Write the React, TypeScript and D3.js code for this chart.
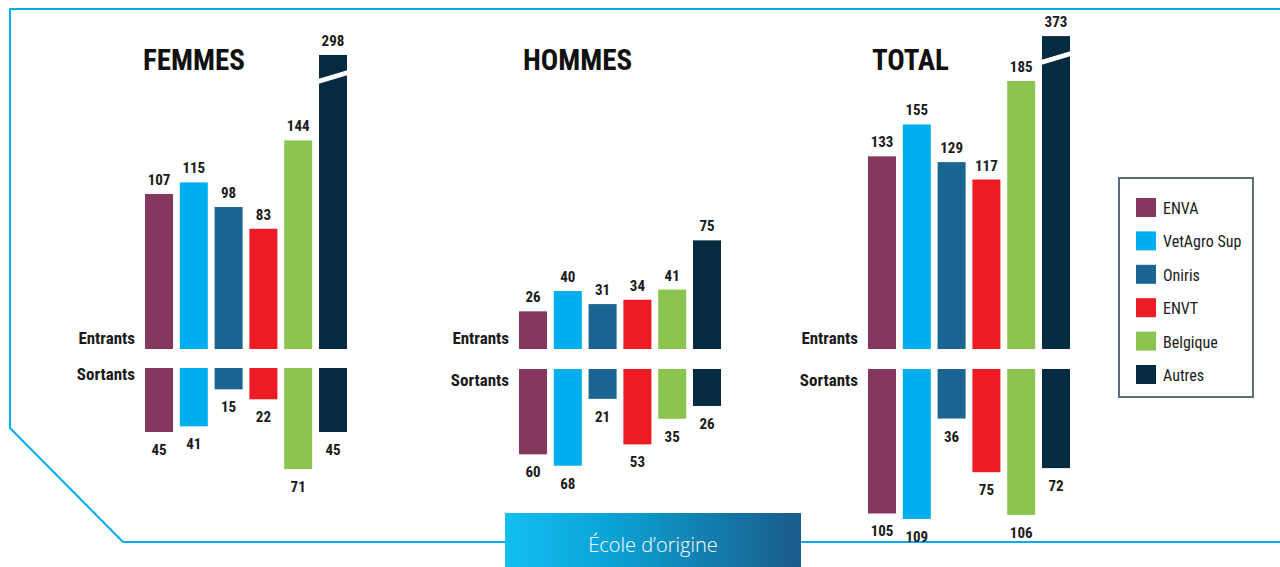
import { useRef, useEffect } from "react";
import * as d3 from "d3";

const schools = ["ENVA", "VetAgro Sup", "Oniris", "ENVT", "Belgique", "Autres"];
const colors = ["#84375f", "#00aeef", "#1b6592", "#ed1c24", "#8bc550", "#062a40"];

const panels = ["FEMMES", "HOMMES", "TOTAL"];
const entrants = [
  [107, 115, 98, 83, 144, 298],
  [26, 40, 31, 34, 41, 75],
  [133, 155, 129, 117, 185, 373],
];
const sortants = [
  [45, 41, 15, 22, 71, 45],
  [60, 68, 21, 53, 35, 26],
  [105, 109, 36, 75, 106, 72],
];
// valeur affichée au-dessus de laquelle la barre est "cassée"
const breakCap = [203, null, 216];

const W = 1280;
const H = 567;

// mise en page de chaque panneau
const layout = [
  { x0: 145, titleX: 143, sortY: 368, sortLabelY: 380, sortRange: 101, sortMax: 71 },
  { x0: 519, titleX: 523, sortY: 369, sortLabelY: 386, sortRange: 101, sortMax: 71 },
  { x0: 868, titleX: 872, sortY: 369, sortLabelY: 386, sortRange: 150, sortMax: 109 },
];

const narrow = "'Liberation Sans Narrow', 'Arial Narrow', 'Roboto Condensed', sans-serif";

const App = () => {
  const svgRef = useRef<SVGSVGElement | null>(null);

  useEffect(() => {
    if (!svgRef.current) return;
    const svg = d3.select(svgRef.current);
    svg.selectAll("*").remove();

    const defs = svg.append("defs");
    const grad = defs
      .append("linearGradient")
      .attr("id", "ecole")
      .attr("x1", "0%")
      .attr("x2", "100%");
    grad.append("stop").attr("offset", "0%").attr("stop-color", "#13bff0");
    grad.append("stop").attr("offset", "35%").attr("stop-color", "#0aa3d6");
    grad.append("stop").attr("offset", "100%").attr("stop-color", "#1a5b8a");

    // cadre bleu
    svg
      .append("path")
      .attr("d", `M${W},9 L10,9 L10,428 L123,542 L${W},542`)
      .attr("fill", "none")
      .attr("stroke", "#00aeef")
      .attr("stroke-width", 2);

    const baseY = 349;
    const yUp = d3.scaleLinear().domain([0, 185]).range([0, 268]);

    panels.forEach((title, p) => {
      const L = layout[p];
      const x = d3
        .scaleBand()
        .domain(schools)
        .range([L.x0, L.x0 + 202])
        .paddingInner(0.195)
        .paddingOuter(0);
      const yDown = d3.scaleLinear().domain([0, L.sortMax]).range([0, L.sortRange]);
      const g = svg.append("g");

      g.append("text")
        .attr("x", L.titleX)
        .attr("y", 70)
        .attr("font-family", narrow)
        .attr("font-weight", "bold")
        .attr("font-size", 29)
        .attr("fill", "#111")
        .text(title);

      g.append("text")
        .attr("x", L.x0 - 10)
        .attr("y", 344)
        .attr("text-anchor", "end")
        .attr("font-family", narrow)
        .attr("font-weight", "bold")
        .attr("font-size", 17)
        .attr("fill", "#1a1a1a")
        .text("Entrants");

      g.append("text")
        .attr("x", L.x0 - 10)
        .attr("y", L.sortLabelY)
        .attr("text-anchor", "end")
        .attr("font-family", narrow)
        .attr("font-weight", "bold")
        .attr("font-size", 17)
        .attr("fill", "#1a1a1a")
        .text("Sortants");

      const cap = breakCap[p];
      const upH = (v: number) => yUp(cap !== null && v > cap ? cap : v);

      // entrants
      entrants[p].forEach((v, i) => {
        const bx = x(schools[i])!;
        const h = upH(v);
        g.append("rect")
          .attr("x", bx)
          .attr("y", baseY - h)
          .attr("width", x.bandwidth())
          .attr("height", h)
          .attr("fill", colors[i]);
        if (cap !== null && v > cap) {
          const t = baseY - h;
          g.append("polygon")
            .attr(
              "points",
              [
                [bx - 1, t + 24],
                [bx + x.bandwidth() + 1, t + 15],
                [bx + x.bandwidth() + 1, t + 20],
                [bx - 1, t + 29],
              ]
                .map((d) => d.join(","))
                .join(" ")
            )
            .attr("fill", "#fff");
        }
        g.append("text")
          .attr("x", bx + x.bandwidth() / 2)
          .attr("y", baseY - h - 9)
          .attr("text-anchor", "middle")
          .attr("font-family", narrow)
          .attr("font-weight", "bold")
          .attr("font-size", 15)
          .attr("fill", "#1a1a1a")
          .text(v);
      });

      // sortants
      sortants[p].forEach((v, i) => {
        const bx = x(schools[i])!;
        const h = yDown(v);
        g.append("rect")
          .attr("x", bx)
          .attr("y", L.sortY)
          .attr("width", x.bandwidth())
          .attr("height", h)
          .attr("fill", colors[i]);
        g.append("text")
          .attr("x", bx + x.bandwidth() / 2)
          .attr("y", L.sortY + h + 23)
          .attr("text-anchor", "middle")
          .attr("font-family", narrow)
          .attr("font-weight", "bold")
          .attr("font-size", 15)
          .attr("fill", "#1a1a1a")
          .text(v);
      });
    });

    // légende
    const lg = svg.append("g").attr("transform", "translate(1119,178)");
    lg.append("rect")
      .attr("width", 134)
      .attr("height", 219)
      .attr("fill", "#fff")
      .attr("stroke", "#5c6f79")
      .attr("stroke-width", 2);
    const ly = d3
      .scalePoint()
      .domain(schools)
      .range([30, 197]);
    schools.forEach((s, i) => {
      lg.append("rect")
        .attr("x", 17)
        .attr("y", ly(s)! - 10)
        .attr("width", 20)
        .attr("height", 19)
        .attr("fill", colors[i]);
      lg.append("text")
        .attr("x", 44)
        .attr("y", ly(s)! + 6)
        .attr("font-family", narrow)
        .attr("font-size", 16)
        .attr("fill", "#1a1a1a")
        .text(s);
    });

    // bandeau du bas
    svg
      .append("rect")
      .attr("x", 505)
      .attr("y", 513)
      .attr("width", 296)
      .attr("height", 54)
      .attr("fill", "url(#ecole)");
    svg
      .append("text")
      .attr("x", 653)
      .attr("y", 552)
      .attr("text-anchor", "middle")
      .attr("font-family", "'Open Sans', 'Noto Sans', sans-serif")
      .attr("font-weight", 300)
      .attr("font-size", 20)
      .attr("fill", "#fff")
      .text("École d’origine");
  }, []);

  return (
    <div style={{ position: "fixed", left: 0, top: 0, width: W, height: H, background: "#fff" }}>
      <svg ref={svgRef} width={W} height={H}></svg>
    </div>
  );
};

export default App;
